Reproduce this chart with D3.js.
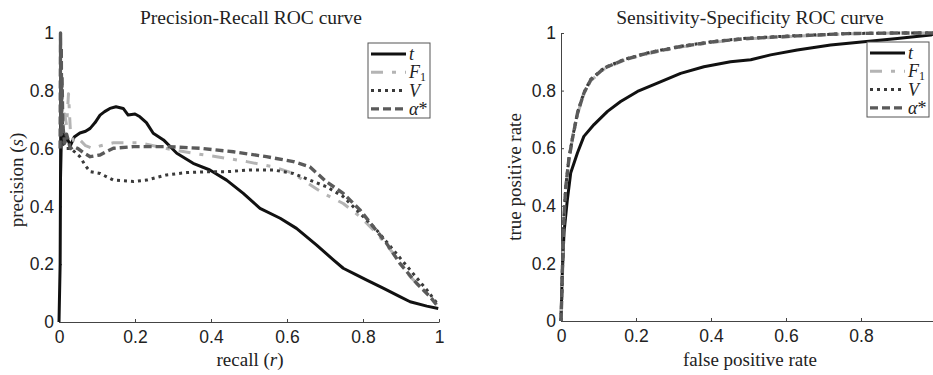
<!DOCTYPE html>
<html><head><meta charset="utf-8">
<script src="https://cdn.jsdelivr.net/npm/d3@7"></script>
<style>
body{margin:0;background:#fff;}
svg{display:block;}
</style></head>
<body>
<svg id="chart" width="933" height="375"></svg>
<script>
// ---------- DATA ----------
const seriesNames = ["t", "F1", "V", "α*"];
const tickValues = [0, 0.2, 0.4, 0.6, 0.8, 1];
const tickLabels = ["0", "0.2", "0.4", "0.6", "0.8", "1"];

// Precision-Recall curves
const prRecallT = [0, 0.003, 0.004, 0.006, 0.008, 0.01, 0.015, 0.02, 0.03, 0.04, 0.055, 0.07, 0.082, 0.095, 0.108, 0.12, 0.134, 0.15, 0.169, 0.182, 0.2, 0.213, 0.23, 0.248, 0.275, 0.31, 0.353, 0.397, 0.441, 0.485, 0.529, 0.582, 0.625, 0.678, 0.722, 0.748, 0.78, 0.81, 0.853, 0.897, 0.924, 0.968, 0.998];
const prPrecT   = [0, 0.2, 0.5, 0.62, 0.7, 0.66, 0.62, 0.64, 0.61, 0.64, 0.654, 0.66, 0.67, 0.69, 0.716, 0.728, 0.739, 0.745, 0.739, 0.716, 0.72, 0.71, 0.69, 0.653, 0.63, 0.584, 0.549, 0.526, 0.491, 0.445, 0.393, 0.359, 0.324, 0.266, 0.215, 0.186, 0.165, 0.145, 0.117, 0.088, 0.07, 0.055, 0.047];

const prRecallF1 = [0.005, 0.01, 0.015, 0.02, 0.025, 0.03, 0.04, 0.055, 0.07, 0.09, 0.11, 0.143, 0.213, 0.283, 0.353, 0.415, 0.494, 0.564, 0.617, 0.669, 0.696, 0.748, 0.792, 0.836, 0.88, 0.924, 0.968, 0.994];
const prPrecF1   = [0.7, 0.65, 0.72, 0.68, 0.79, 0.66, 0.62, 0.63, 0.61, 0.6, 0.61, 0.62, 0.62, 0.6, 0.584, 0.572, 0.555, 0.537, 0.514, 0.468, 0.445, 0.41, 0.365, 0.307, 0.237, 0.157, 0.1, 0.059];

const prRecallV = [0.01, 0.02, 0.03, 0.04, 0.055, 0.07, 0.082, 0.108, 0.143, 0.196, 0.231, 0.283, 0.336, 0.389, 0.441, 0.503, 0.564, 0.617, 0.66, 0.704, 0.748, 0.792, 0.836, 0.88, 0.924, 0.968, 0.998];
const prPrecV   = [0.62, 0.6, 0.6, 0.59, 0.572, 0.54, 0.52, 0.514, 0.491, 0.486, 0.491, 0.509, 0.517, 0.52, 0.52, 0.526, 0.526, 0.514, 0.491, 0.468, 0.434, 0.376, 0.318, 0.249, 0.18, 0.111, 0.059];

const prRecallA = [0.003, 0.004, 0.005, 0.006, 0.007, 0.008, 0.01, 0.015, 0.02, 0.03, 0.038, 0.05, 0.065, 0.082, 0.108, 0.125, 0.143, 0.196, 0.283, 0.371, 0.459, 0.546, 0.617, 0.66, 0.704, 0.748, 0.792, 0.827, 0.862, 0.897, 0.941, 0.976, 0.998];
const prPrecA   = [0.6, 1.0, 0.7, 0.95, 0.65, 0.85, 0.68, 0.62, 0.65, 0.6, 0.607, 0.6, 0.585, 0.572, 0.578, 0.59, 0.601, 0.607, 0.607, 0.601, 0.589, 0.572, 0.555, 0.537, 0.485, 0.445, 0.388, 0.33, 0.272, 0.203, 0.134, 0.088, 0.053];

// Sensitivity-Specificity ROC curves
const rocFprT = [0, 0.003, 0.008, 0.017, 0.026, 0.044, 0.061, 0.088, 0.124, 0.159, 0.204, 0.257, 0.319, 0.381, 0.452, 0.506, 0.559, 0.63, 0.719, 0.808, 0.897, 0.986, 1];
const rocTprT = [0, 0.15, 0.307, 0.422, 0.515, 0.584, 0.641, 0.682, 0.728, 0.762, 0.797, 0.826, 0.86, 0.883, 0.9, 0.907, 0.924, 0.941, 0.958, 0.97, 0.981, 0.993, 1];

const rocFprF1 = [0, 0.002, 0.004, 0.008, 0.013, 0.021, 0.03, 0.044, 0.061, 0.079, 0.115, 0.168, 0.23, 0.319, 0.408, 0.497, 0.63, 0.764, 0.897, 1];
const rocTprF1 = [0, 0.08, 0.19, 0.36, 0.465, 0.558, 0.627, 0.718, 0.787, 0.834, 0.875, 0.905, 0.928, 0.951, 0.968, 0.98, 0.989, 0.997, 1.0, 1];

const rocFprV = [0, 0.002, 0.004, 0.008, 0.013, 0.021, 0.03, 0.044, 0.061, 0.079, 0.115, 0.168, 0.23, 0.319, 0.408, 0.497, 0.63, 0.764, 0.897, 1];
const rocTprV = [0, 0.082, 0.193, 0.366, 0.47, 0.563, 0.632, 0.724, 0.793, 0.839, 0.879, 0.908, 0.931, 0.954, 0.971, 0.982, 0.991, 0.998, 1.0, 1];

const rocFprA = [0, 0.002, 0.004, 0.008, 0.013, 0.021, 0.03, 0.044, 0.061, 0.079, 0.115, 0.168, 0.23, 0.319, 0.408, 0.497, 0.63, 0.764, 0.897, 1];
const rocTprA = [0, 0.08, 0.191, 0.364, 0.468, 0.561, 0.63, 0.722, 0.791, 0.837, 0.878, 0.907, 0.93, 0.953, 0.97, 0.981, 0.99, 0.998, 1.0, 1];

// ---------- STYLES ----------
const styles = {
  "t":  {stroke:"#111", width:3, dash:null},
  "F1": {stroke:"#b4b4b4", width:3, dash:"12,9,4,9"},
  "V":  {stroke:"#3a3a3a", width:3, dash:"3,4"},
  "α*": {stroke:"#5a5a5a", width:3.4, dash:"8,4"}
};

const svg = d3.select("#chart");
const serif = "'Liberation Serif','Times New Roman',serif";
const sans = "'Liberation Sans',Arial,sans-serif";

function zip(xs, ys){ return xs.map((x,i)=>[x, ys[i]]); }

function panel(opt){
  const x = d3.scaleLinear().domain([0,1]).range([opt.x0, opt.x1]);
  const y = d3.scaleLinear().domain([0,1]).range([opt.y0, opt.y1]);
  const g = svg.append("g");

  // axes
  const xAxis = d3.axisBottom(x).tickValues(tickValues.filter(v=>x(v)<=933))
     .tickFormat((d)=>tickLabels[tickValues.indexOf(d)]).tickSizeInner(-3).tickSizeOuter(0).tickPadding(9);
  const yAxis = d3.axisLeft(y).tickValues(tickValues)
     .tickFormat((d)=>tickLabels[tickValues.indexOf(d)]).tickSizeInner(-3).tickSizeOuter(0).tickPadding(5);
  const gx = g.append("g").attr("transform",`translate(0,${opt.y0})`).call(xAxis);
  const gy = g.append("g").attr("transform",`translate(${opt.x0},0)`).call(yAxis);
  [gx,gy].forEach(a=>{
    a.select(".domain").attr("stroke","#444").attr("stroke-width",1);
    a.selectAll(".tick line").attr("stroke","#444");
    a.selectAll(".tick text").attr("font-family",sans).attr("font-size",17.5).attr("fill","#222");
  });
  gx.selectAll(".tick text").attr("dy","0.71em");

  // curves
  const line = d3.line().x(d=>x(d[0])).y(d=>y(d[1])).curve(d3.curveLinear);
  opt.series.forEach(s=>{
    const st = styles[s.name];
    g.append("path").datum(s.data).attr("d",line).attr("fill","none")
      .attr("stroke",st.stroke).attr("stroke-width",st.width)
      .attr("stroke-dasharray",st.dash).attr("stroke-linejoin","round");
  });

  // title
  g.append("text").attr("x",opt.titleX).attr("y",24).attr("text-anchor","middle")
    .attr("font-family",serif).attr("font-size",19.5).attr("fill","#222").text(opt.title);

  // x label
  const xl = g.append("text").attr("x",opt.xLabelX).attr("y",366).attr("text-anchor","middle")
    .attr("font-family",serif).attr("font-size",19).attr("fill","#222");
  opt.xLabel.forEach(p=>xl.append("tspan").attr("font-style",p.it?"italic":"normal").text(p.t));
  // y label
  const yl = g.append("text").attr("transform",`translate(${opt.yLabelX},${opt.yLabelY}) rotate(-90)`)
    .attr("text-anchor","middle").attr("font-family",serif).attr("font-size",19).attr("fill","#222");
  opt.yLabel.forEach(p=>yl.append("tspan").attr("font-style",p.it?"italic":"normal").text(p.t));

  // legend
  const lg = g.append("g").attr("transform",`translate(${opt.legX},${opt.legY})`);
  lg.append("rect").attr("x",0).attr("y",0).attr("width",62).attr("height",75)
    .attr("fill","#fff").attr("stroke","#555").attr("stroke-width",1);
  seriesNames.forEach((n,i)=>{
    const st = styles[n];
    const yy = 11 + i*18.3;
    lg.append("line").attr("x1",3).attr("x2",38).attr("y1",yy).attr("y2",yy)
      .attr("stroke",st.stroke).attr("stroke-width",st.width).attr("stroke-dasharray",st.dash);
    const t = lg.append("text").attr("x",41).attr("y",yy+6).attr("font-family",serif)
      .attr("font-size",18).attr("fill","#222");
    if(n==="F1"){
      t.append("tspan").attr("font-style","italic").text("F");
      t.append("tspan").attr("font-size",12).attr("dy",3).text("1");
    } else if(n==="α*"){
      t.append("tspan").attr("font-style","italic").text("α");
      t.append("tspan").text("*");
    } else {
      t.append("tspan").attr("font-style","italic").text(n);
    }
  });
}

panel({
  x0:59, x1:439, y0:322, y1:33,
  title:"Precision-Recall ROC curve", titleX:251,
  xLabel:[{t:"recall ("},{t:"r",it:true},{t:")"}], xLabelX:250,
  yLabel:[{t:"precision ("},{t:"s",it:true},{t:")"}], yLabelX:23, yLabelY:180,
  legX:368, legY:43,
  series:[
    {name:"t", data:zip(prRecallT, prPrecT)},
    {name:"F1", data:zip(prRecallF1, prPrecF1)},
    {name:"V", data:zip(prRecallV, prPrecV)},
    {name:"α*", data:zip(prRecallA, prPrecA)}
  ]
});

panel({
  x0:561, x1:936, y0:321, y1:33,
  title:"Sensitivity-Specificity ROC curve", titleX:750,
  xLabel:[{t:"false positive rate"}], xLabelX:750,
  yLabel:[{t:"true positive rate"}], yLabelX:521, yLabelY:177,
  legX:867, legY:42,
  series:[
    {name:"t", data:zip(rocFprT, rocTprT)},
    {name:"F1", data:zip(rocFprF1, rocTprF1)},
    {name:"V", data:zip(rocFprV, rocTprV)},
    {name:"α*", data:zip(rocFprA, rocTprA)}
  ]
});
</script>
</body></html>
